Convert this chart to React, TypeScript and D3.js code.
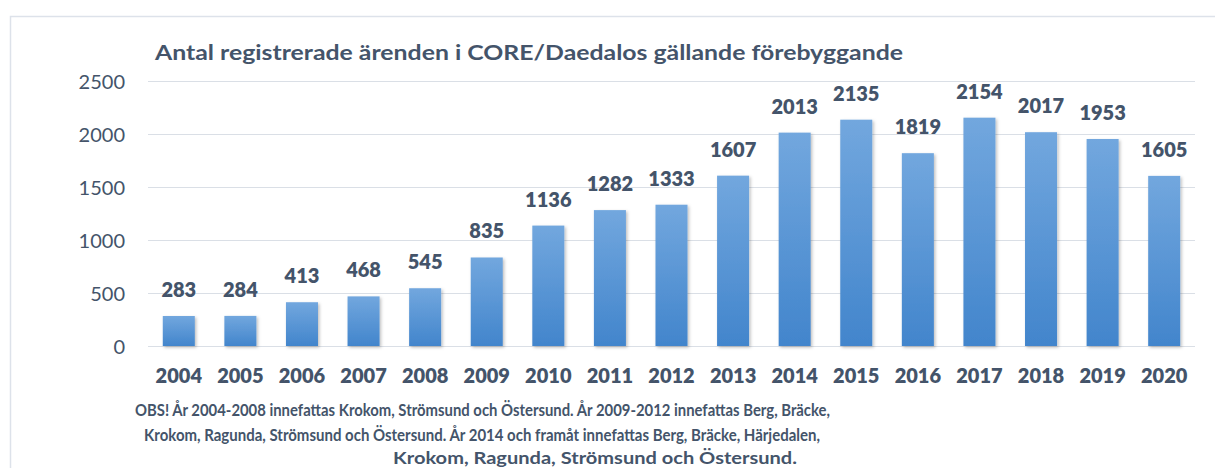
import React from "react";
import * as d3 from "d3";

const years = ["2004","2005","2006","2007","2008","2009","2010","2011","2012","2013","2014","2015","2016","2017","2018","2019","2020"];
const counts = [283,284,413,468,545,835,1136,1282,1333,1607,2013,2135,1819,2154,2017,1953,1605];
const yTicks = [0,500,1000,1500,2000,2500];
const title = "Antal registrerade ärenden i CORE/Daedalos gällande förebyggande";
const noteLines = [
  "OBS! År 2004-2008 innefattas Krokom, Strömsund och Östersund. År 2009-2012 innefattas Berg, Bräcke,",
  "Krokom, Ragunda, Strömsund och Östersund. År 2014 och framåt innefattas Berg, Bräcke, Härjedalen,",
  "Krokom, Ragunda, Strömsund och Östersund.",
];
const noteLayout = [
  { x: 135, w: 695, y: 416 },
  { x: 144, w: 676, y: 441 },
  { x: 393, w: 404, y: 464 },
];

const W = 1215, H = 468;
const TEXT = "#44546a";
const FONT = "Lato, 'Open Sans', sans-serif";

export default function App() {
  const x = d3.scaleBand<string>().domain(years).range([148, 1195]).paddingInner(0.48).paddingOuter(0.24);
  const y = d3.scaleLinear().domain([0, 2500]).range([346, 81]);
  return (
    <svg width={W} height={H} style={{ position: "absolute", left: 0, top: 0, background: "#fff" }} fontFamily={FONT}>
      <defs>
        <linearGradient id="barGrad" x1="0" y1="0" x2="0" y2="1">
          <stop offset="0" stopColor="#72a7de" />
          <stop offset="1" stopColor="#4285cc" />
        </linearGradient>
        <filter id="shadow" x="-30%" y="-10%" width="160%" height="130%">
          <feDropShadow dx="1.5" dy="1.5" stdDeviation="1.5" floodColor="#000" floodOpacity="0.25" />
        </filter>
      </defs>
      <rect x={0} y={0} width={W} height={H} fill="#fff" />
      <rect x={10.5} y={16.5} width={W + 20} height={H + 20} fill="#fff" stroke="#dde2ea" strokeWidth={1.5} />
      <text x={155} y={60} fill={TEXT} fontSize={20.5} fontWeight={700} textLength={748} lengthAdjust="spacingAndGlyphs">{title}</text>
      {yTicks.map((t) => (
        <g key={t}>
          <line x1={148} x2={1195} y1={Math.round(y(t)) + 0.5} y2={Math.round(y(t)) + 0.5} stroke="#dadfe6" strokeWidth={1.2} />
          <text x={125} y={y(t) + 7.5} textAnchor="end" fill={TEXT} fontSize={20}>{t}</text>
        </g>
      ))}
      {years.map((yr, i) => (
        <g key={yr}>
          <rect x={x(yr)} y={y(counts[i])} width={x.bandwidth()} height={y(0) - y(counts[i])} fill="url(#barGrad)" filter="url(#shadow)" />
          <text x={(x(yr) as number) + x.bandwidth() / 2} y={y(counts[i]) - 19} textAnchor="middle" fill={TEXT} fontSize={20} fontWeight={800}>{counts[i]}</text>
          <text x={(x(yr) as number) + x.bandwidth() / 2} y={383} textAnchor="middle" fill={TEXT} fontSize={20} fontWeight={800}>{yr}</text>
        </g>
      ))}
      {noteLines.map((l, i) => (
        <text key={i} x={noteLayout[i].x} y={noteLayout[i].y} fill={TEXT} fontSize={17} fontWeight={700} textLength={noteLayout[i].w} lengthAdjust="spacingAndGlyphs">{l}</text>
      ))}
    </svg>
  );
}
